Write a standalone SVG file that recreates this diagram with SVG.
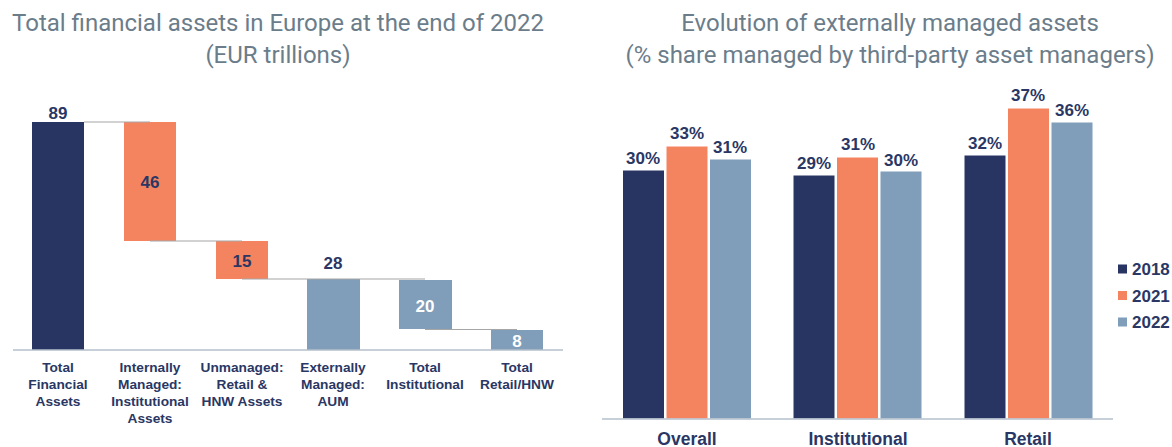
<svg xmlns="http://www.w3.org/2000/svg" width="1172" height="447" viewBox="0 0 1172 447">
<style>
.title{font-family:Roboto,"Liberation Sans",sans-serif;font-size:24px;fill:#6b7d8a;text-anchor:middle}
.val{font-family:"Liberation Sans",Arial,sans-serif;font-weight:bold;font-size:17px;fill:#2a3764;text-anchor:middle}
.valw{font-family:"Liberation Sans",Arial,sans-serif;font-weight:bold;font-size:17px;fill:#ffffff;text-anchor:middle}
.cat{font-family:"Liberation Sans",Arial,sans-serif;font-weight:bold;font-size:13.7px;fill:#2a3764;text-anchor:middle}
.cat2{font-family:"Liberation Sans",Arial,sans-serif;font-weight:bold;font-size:17.5px;fill:#2a3764;text-anchor:middle}
.leg{font-family:"Liberation Sans",Arial,sans-serif;font-weight:bold;font-size:17px;fill:#2a3764}
.navy{fill:#283562}
.orange{fill:#f4845f}
.blue{fill:#809db9}
.bar{stroke:#ffffff;stroke-width:1}
.axis{stroke:#b4bfcd;stroke-width:1.6;fill:none}
.conn{stroke:#a6a6a6;stroke-width:1.2;fill:none}
</style>

<!-- Titles -->
<g id="title-left">
<text class="title" x="278" y="31">Total financial assets in Europe at the end of 2022</text>
<text class="title" x="278" y="63">(EUR trillions)</text>
</g>
<g id="title-right">
<text class="title" x="890" y="31">Evolution of externally managed assets</text>
<text class="title" x="890" y="63">(% share managed by third-party asset managers)</text>
</g>

<!-- Left waterfall chart -->
<g id="wf-total">
<rect class="navy" x="32" y="122" width="52" height="228"/>
<text class="val" x="58" y="119">89</text>
<text class="cat" x="58" y="372">Total</text>
<text class="cat" x="58" y="389">Financial</text>
<text class="cat" x="58" y="406">Assets</text>
</g>
<g id="wf-internal">
<rect class="orange" x="124" y="122" width="52" height="119"/>
<text class="val" x="150" y="188">46</text>
<text class="cat" x="150" y="372">Internally</text>
<text class="cat" x="150" y="389">Managed:</text>
<text class="cat" x="150" y="406">Institutional</text>
<text class="cat" x="150" y="423">Assets</text>
</g>
<g id="wf-unmanaged">
<rect class="orange" x="216" y="241" width="52" height="38"/>
<text class="val" x="242" y="267">15</text>
<text class="cat" x="242" y="372">Unmanaged:</text>
<text class="cat" x="242" y="389">Retail &amp;</text>
<text class="cat" x="242" y="406">HNW Assets</text>
</g>
<g id="wf-aum">
<rect class="blue" x="307" y="279" width="53" height="71"/>
<text class="val" x="333" y="269">28</text>
<text class="cat" x="333" y="372">Externally</text>
<text class="cat" x="333" y="389">Managed:</text>
<text class="cat" x="333" y="406">AUM</text>
</g>
<g id="wf-institutional">
<rect class="blue" x="399" y="280" width="53" height="49"/>
<text class="valw" x="425" y="312">20</text>
<text class="cat" x="425" y="372">Total</text>
<text class="cat" x="425" y="389">Institutional</text>
</g>
<g id="wf-retail">
<rect class="blue" x="491" y="330" width="52" height="20"/>
<text class="valw" x="517" y="347">8</text>
<text class="cat" x="517" y="372">Total</text>
<text class="cat" x="517" y="389">Retail/HNW</text>
</g>

<g id="connectors">
<line class="conn" x1="84" y1="122" x2="150" y2="122"/>
<line class="conn" x1="150" y1="241" x2="242" y2="241"/>
<line class="conn" x1="242" y1="279" x2="425" y2="279"/>
<line class="conn" x1="425" y1="329.5" x2="517" y2="329.5"/>
</g>

<line id="axis-left" class="axis" x1="13" y1="350" x2="563" y2="350"/>

<!-- Right grouped bar chart -->
<g id="grp-overall">
<rect class="navy bar" x="622.5" y="170" width="42" height="249"/>
<rect class="orange bar" x="666" y="146" width="42" height="273"/>
<rect class="blue bar" x="709.5" y="159" width="42" height="260"/>
<text class="val" x="643" y="164">30%</text>
<text class="val" x="687" y="139">33%</text>
<text class="val" x="730" y="153">31%</text>
<text class="cat2" x="687" y="445">Overall</text>
</g>
<g id="grp-institutional">
<rect class="navy bar" x="793" y="175" width="42" height="244"/>
<rect class="orange bar" x="836.5" y="157" width="42" height="262"/>
<rect class="blue bar" x="880" y="171" width="42" height="248"/>
<text class="val" x="814" y="169">29%</text>
<text class="val" x="858" y="150">31%</text>
<text class="val" x="901" y="166">30%</text>
<text class="cat2" x="858" y="445">Institutional</text>
</g>
<g id="grp-retail">
<rect class="navy bar" x="964" y="155" width="42" height="264"/>
<rect class="orange bar" x="1007.5" y="108" width="42" height="311"/>
<rect class="blue bar" x="1051" y="122" width="42" height="297"/>
<text class="val" x="985" y="149">32%</text>
<text class="val" x="1028" y="101">37%</text>
<text class="val" x="1072" y="116">36%</text>
<text class="cat2" x="1028" y="445">Retail</text>
</g>

<line id="axis-right" class="axis" x1="602" y1="419" x2="1113" y2="419"/>

<g id="legend">
<rect class="navy" x="1118" y="264.5" width="9" height="9"/>
<text class="leg" x="1132" y="275">2018</text>
<rect class="orange" x="1118" y="291" width="9" height="9"/>
<text class="leg" x="1132" y="301.5">2021</text>
<rect class="blue" x="1118" y="317.5" width="9" height="9"/>
<text class="leg" x="1132" y="328">2022</text>
</g>
</svg>
